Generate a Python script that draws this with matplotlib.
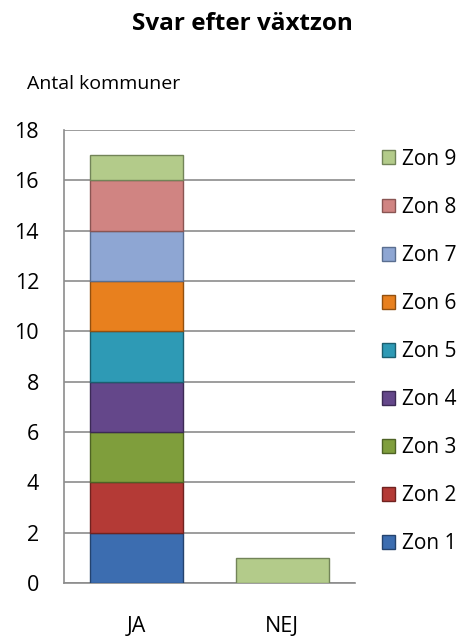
import matplotlib
matplotlib.use("Agg")
import matplotlib.pyplot as plt
import numpy as np

plt.rcParams["font.family"] = ["Open Sans", "DejaVu Sans"]

categories = ["JA", "NEJ"]
zones = ["Zon 1", "Zon 2", "Zon 3", "Zon 4", "Zon 5", "Zon 6", "Zon 7", "Zon 8", "Zon 9"]
# values per zone for [JA, NEJ]
zone_values = [
    [2, 0],
    [2, 0],
    [2, 0],
    [2, 0],
    [2, 0],
    [2, 0],
    [2, 0],
    [2, 0],
    [1, 1],
]
zone_colors = ["#3C6DB0", "#B43A36", "#7F9E3C", "#64478A", "#2E9AB5",
               "#E8801E", "#8EA6D3", "#D08482", "#B3CB8A"]
edge_colors = ["#24436E", "#702220", "#4E6325", "#3C2A55", "#1B5F70",
               "#92500F", "#5A6E90", "#8A5553", "#728458"]

fig = plt.figure(figsize=(4.66, 6.37), dpi=100)
ax = fig.add_axes([64 / 466, 1 - 583 / 637, 291 / 466, 453 / 637])

x = np.arange(len(categories))
bottom = np.zeros(len(categories))
handles = []
for name, vals, c, ec in zip(zones, zone_values, zone_colors, edge_colors):
    vals = np.array(vals, dtype=float)
    bars = ax.bar(x, vals, 0.64, bottom=bottom, color=c, edgecolor=ec,
                  linewidth=1.0, label=name, zorder=3)
    handles.append(bars)
    bottom += vals

ax.set_xlim(-0.5, 1.5)
ax.set_ylim(0, 18)
ax.set_yticks(np.arange(0, 19, 2))
ax.set_xticks(x)
ax.set_xticklabels(categories)
ax.tick_params(axis="y", length=0, pad=18, labelsize=15.5)
ax.tick_params(axis="x", length=0, pad=24, labelsize=15.5)
ax.grid(True, axis="y", color="#8C8C8C", linewidth=1.2, zorder=0)
for s in ["top", "right"]:
    ax.spines[s].set_visible(False)
for s in ["left", "bottom"]:
    ax.spines[s].set_color("#8C8C8C")
    ax.spines[s].set_linewidth(1.2)

fig.text(242 / 466, 1 - 24 / 637, "Svar efter växtzon", ha="center", va="center",
         fontsize=17.5, fontweight="bold")
fig.text(27 / 466, 1 - 84 / 637, "Antal kommuner", ha="left", va="center", fontsize=14)

leg = fig.legend(handles[::-1], zones[::-1], loc="upper left",
                 bbox_to_anchor=(363 / 466, 1 - 130 / 637), frameon=False,
                 fontsize=15, handlelength=0.65, handleheight=0.65,
                 handletextpad=0.34, labelspacing=1.30)

fig.savefig("out.png", dpi=100)
